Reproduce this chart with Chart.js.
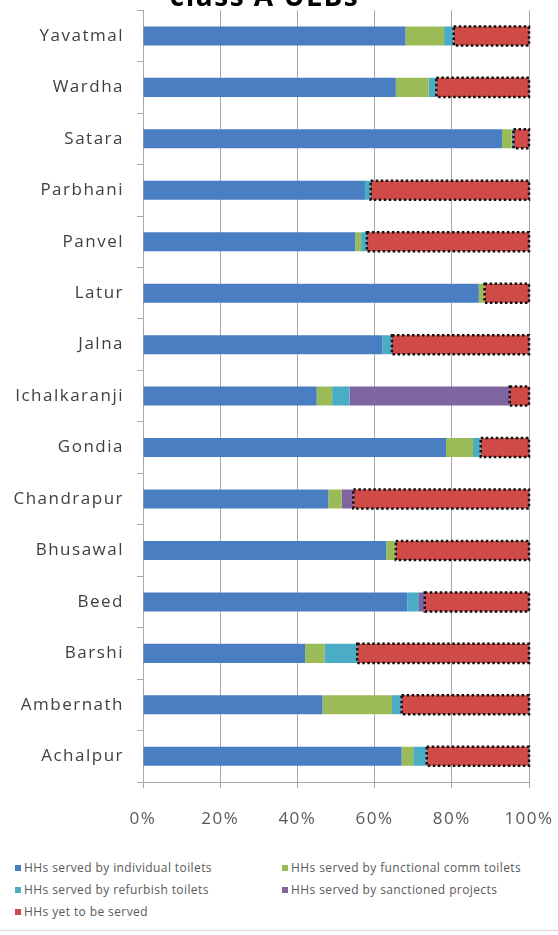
<!DOCTYPE html>
<html>
<head>
<meta charset="utf-8">
<script src="https://cdn.jsdelivr.net/npm/chart.js@4.4.1/dist/chart.umd.min.js"></script>
<style>
  html, body { margin: 0; padding: 0; background: #fff; }
  body { width: 558px; height: 935px; position: relative; overflow: hidden; }
  #wrap { position: absolute; left: 0; top: -15px; width: 558px; height: 857px; }
  #legend {
    position: absolute; left: 15px; top: 857px;
    display: grid; grid-template-columns: 267px auto;
    font-family: "Open Sans", sans-serif; font-size: 12px; letter-spacing: 0.4px; color: #595959;
  }
  #legend span { display: flex; align-items: center; white-space: nowrap; line-height: 22px; }
  #legend i { display: inline-block; width: 6px; height: 6px; margin-right: 3px; }
  #frame { position: absolute; left: 0; right: 0; top: 930px; border-top: 1px solid #d9d9d9; }
</style>
</head>
<body>
<div id="wrap"><canvas id="chart"></canvas></div>
<div id="legend"></div>
<div id="frame"></div>
<script>
// ULB names, top to bottom
const ulbs = ["Yavatmal", "Wardha", "Satara", "Parbhani", "Panvel", "Latur", "Jalna",
  "Ichalkaranji", "Gondia", "Chandrapur", "Bhusawal", "Beed", "Barshi", "Ambernath", "Achalpur"];

// share of households (%) per category
const individualToilets = [68, 65.5, 93, 57.5, 55, 87, 62, 45, 78.5, 48, 63, 68.5, 42, 46.5, 67];
const commToilets       = [10, 8.5, 2.5, 0, 1.5, 1.5, 0, 4, 7, 3.5, 2.5, 0, 5, 18, 3];
const refurbishToilets  = [2.5, 2, 0.5, 1.5, 1.5, 0, 2.5, 4.5, 2, 0, 0, 3, 8.5, 2.5, 3.5];
const sanctioned        = [0, 0, 0, 0, 0, 0, 0, 41.5, 0, 3, 0, 1.5, 0, 0, 0];
const yetToBeServed     = [19.5, 24, 4, 41, 42, 11.5, 35.5, 5, 12.5, 45.5, 34.5, 27, 44.5, 33, 26.5];

const xTicks = [0, 20, 40, 60, 80, 100];

// wider letter spacing for all canvas text
const spacedText = {
  id: "spacedText",
  beforeLayout(chart) { chart.ctx.letterSpacing = "1.5px"; },
  beforeDraw(chart) { chart.ctx.letterSpacing = "1.5px"; },
};

// dotted outline around the "yet to be served" bars
const dottedOutline = {
  id: "dottedOutline",
  afterDatasetsDraw(chart) {
    const meta = chart.getDatasetMeta(4);
    const ctx = chart.ctx;
    ctx.save();
    ctx.strokeStyle = "#111";
    ctx.lineWidth = 2.5;
    ctx.setLineDash([2.5, 2.5]);
    meta.data.forEach((bar) => {
      const p = bar.getProps(["x", "y", "base", "height"], true);
      ctx.strokeRect(p.base, p.y - p.height / 2, p.x - p.base, p.height);
    });
    ctx.restore();
  },
};

const ctx = document.getElementById("chart").getContext("2d");
const chart = new Chart(ctx, {
  type: "bar",
  data: {
    labels: ulbs,
    datasets: [
      { label: "HHs served by individual toilets", data: individualToilets, backgroundColor: "#4a7ec2" },
      { label: "HHs served by functional comm toilets", data: commToilets, backgroundColor: "#9bbb59" },
      { label: "HHs served by refurbish toilets", data: refurbishToilets, backgroundColor: "#4bacc6" },
      { label: "HHs served by sanctioned projects", data: sanctioned, backgroundColor: "#8064a2" },
      { label: "HHs yet to be served", data: yetToBeServed, backgroundColor: "#d04a47" },
    ],
  },
  options: {
    indexAxis: "y",
    responsive: true,
    maintainAspectRatio: false,
    animation: false,
    layout: { padding: { left: 0, right: 29, top: 0, bottom: 0 } },
    datasets: { bar: { categoryPercentage: 1, barPercentage: 0.37, borderWidth: 0 } },
    plugins: {
      legend: { display: false },
      tooltip: { enabled: false },
      title: {
        display: true,
        text: "class A ULBs",
        color: "#000",
        font: { family: "Open Sans", size: 28, weight: "bold", lineHeight: 0.9 },
        padding: 0,
      },
    },
    scales: {
      x: {
        stacked: true,
        min: 0,
        max: 100,
        afterBuildTicks: (scale) => { scale.ticks = xTicks.map((v) => ({ value: v })); },
        afterFit: (scale) => {
          scale.height = 60;
          scale.paddingLeft = 0;
          scale.paddingRight = 0;
        },
        ticks: {
          callback: (v) => v + "%",
          color: "#595959",
          font: { family: "Open Sans", size: 17 },
          padding: 21,
          maxRotation: 0,
          autoSkip: false,
        },
        grid: { color: "#a8a8a8", tickLength: 6 },
        border: { color: "#a8a8a8" },
      },
      y: {
        stacked: true,
        afterFit: (scale) => { scale.width = 143; },
        ticks: {
          color: "#404040",
          font: { family: "Open Sans", size: 17 },
          padding: 13,
        },
        grid: { drawOnChartArea: false, color: "#a8a8a8", tickLength: 6, offset: true },
        border: { color: "#a8a8a8" },
      },
    },
  },
  plugins: [spacedText, dottedOutline],
});

// two-column legend built from the datasets
const legendEl = document.getElementById("legend");
chart.data.datasets.forEach((ds) => {
  const item = document.createElement("span");
  const box = document.createElement("i");
  box.style.background = ds.backgroundColor;
  item.appendChild(box);
  item.appendChild(document.createTextNode(ds.label));
  legendEl.appendChild(item);
});
</script>
</body>
</html>
